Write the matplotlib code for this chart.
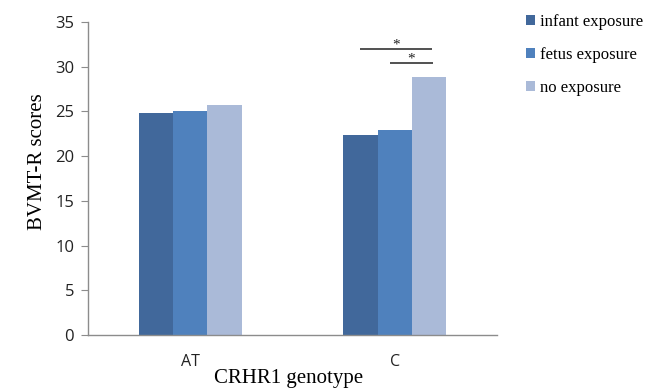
import matplotlib
matplotlib.use("Agg")
import matplotlib.pyplot as plt
import numpy as np

categories = ["AT", "C"]
series_names = ["infant exposure", "fetus exposure", "no exposure"]
infant = [24.8, 22.4]
fetus = [25.0, 22.9]
noexp = [25.7, 28.9]
colors = ["#41689B", "#4F81BD", "#AABAD8"]
sig_lines = [(-0.17, 0.18, 32.0), (-0.025, 0.185, 30.4)]  # offsets from group C centre, height

fig = plt.figure(figsize=(6.68, 3.9), dpi=100)
ax = fig.add_axes([0.1317, 0.141, 0.6123, 0.8026])

x = np.arange(len(categories))
w = 0.168
vals = [infant, fetus, noexp]
for i, (v, c, n) in enumerate(zip(vals, colors, series_names)):
    ax.bar(x + (i - 1) * w, v, width=w, color=c, label=n, linewidth=0)

ax.set_xlim(-0.5, 1.5)
ax.set_ylim(0, 35)
ax.set_yticks(range(0, 36, 5))
ax.set_xticks(x)
ax.set_xticklabels(categories)
for s in ["top", "right"]:
    ax.spines[s].set_visible(False)
for s in ["left", "bottom"]:
    ax.spines[s].set_color("#8C8C8C")
    ax.spines[s].set_linewidth(1.0)
ax.tick_params(axis="y", direction="out", length=5, color="#8C8C8C", labelsize=12, pad=5)
ax.tick_params(axis="x", length=0, labelsize=11.5, pad=14)
for lab in ax.get_xticklabels() + ax.get_yticklabels():
    lab.set_fontfamily("Open Sans")
    lab.set_color("#222222")

ax.set_ylabel("BVMT-R scores", fontfamily="Liberation Serif", fontsize=15)
ax.yaxis.set_label_coords(-0.10, 0.553)
ax.set_xlabel("CRHR1 genotype", fontfamily="Liberation Serif", fontsize=15)
ax.xaxis.set_label_coords(0.49, -0.108)

gx = x[1]
for a, b, h in sig_lines:
    xa, xb = gx + a, gx + b
    ax.plot([xa, xb], [h, h], color="#333333", lw=1.2, solid_capstyle="butt")
    ax.text((xa + xb) / 2, h - 0.3, "*", ha="center", va="bottom",
            fontsize=11, fontfamily="Liberation Serif", color="#222222")

leg = fig.legend(loc="upper left", bbox_to_anchor=(0.765, 1.003), frameon=False,
                 prop={"family": "Liberation Serif", "size": 12},
                 handlelength=0.55, handleheight=0.55, handletextpad=0.3,
                 labelspacing=1.02)

fig.savefig("out.png", dpi=100)
